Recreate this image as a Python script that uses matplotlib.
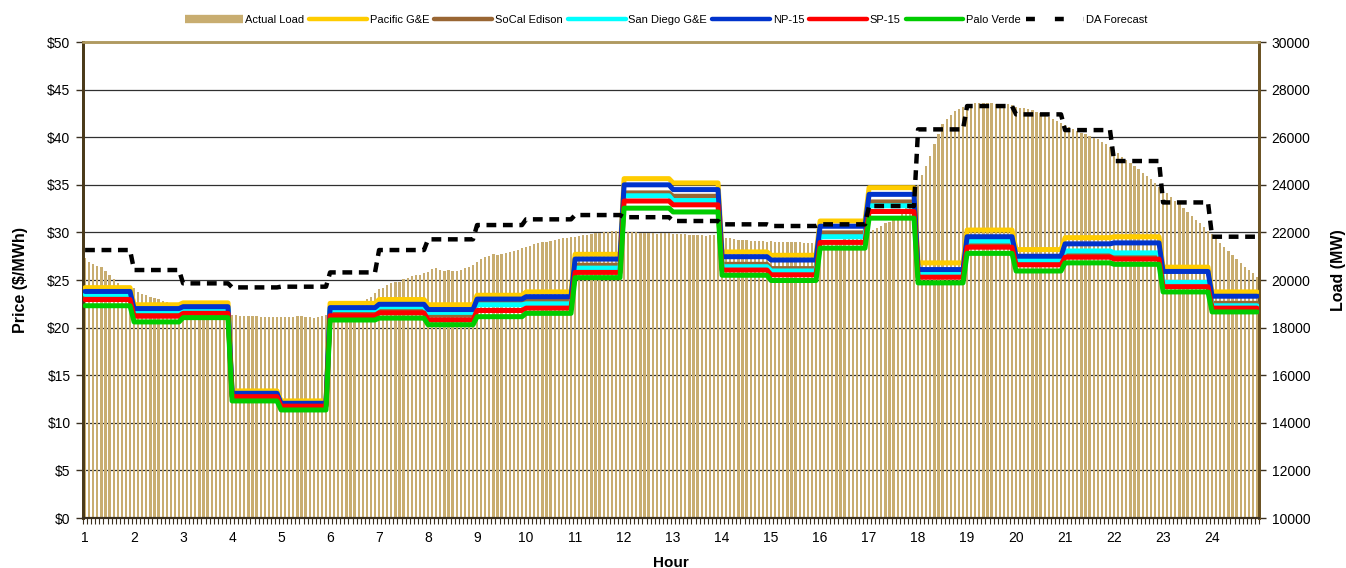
import numpy as np
import matplotlib
matplotlib.use("Agg")
import matplotlib.pyplot as plt
from matplotlib.lines import Line2D

plt.rcParams['font.family'] = ['Liberation Sans', 'DejaVu Sans']

hours = list(range(1, 25))

# actual load, 5-minute values (MW), one row per hour
load_mw = [
    20910, 20770, 20670, 20590, 20530, 20390, 20210, 20040, 19860, 19720, 19650, 19580,
    19650, 19510, 19410, 19370, 19300, 19230, 19190, 19130, 19090, 19050, 19010, 18990,
    18950, 18900, 18860, 18820, 18780, 18740, 18700, 18670, 18640, 18610, 18580, 18560,
    18530, 18530, 18500, 18490, 18490, 18490, 18480, 18460, 18460, 18460, 18460, 18450,
    18460, 18460, 18460, 18430, 18490, 18490, 18460, 18430, 18400, 18430, 18490, 18530,
    18580, 18620, 18660, 18700, 18750, 18800, 18880, 18960, 19060, 19190, 19300, 19440,
    19610, 19650, 19790, 19890, 19930, 19930, 20030, 20100, 20170, 20210, 20210, 20280,
    20350, 20450, 20490, 20420, 20390, 20420, 20390, 20390, 20420, 20490, 20560, 20630,
    20770, 20880, 20950, 21010, 21080, 21050, 21100, 21150, 21190, 21230, 21260, 21330,
    21370, 21440, 21500, 21540, 21580, 21610, 21640, 21680, 21710, 21750, 21780, 21800,
    21820, 21850, 21890, 21910, 21930, 21960, 21990, 22030, 22030, 22060, 22060, 22070,
    22050, 22030, 22030, 22000, 21990, 21980, 21960, 21960, 21940, 21960, 21960, 21980,
    21940, 21920, 21930, 21940, 21900, 21900, 21880, 21880, 21870, 21880, 21890, 21890,
    21820, 21750, 21750, 21710, 21680, 21680, 21680, 21650, 21650, 21650, 21640, 21610,
    21650, 21610, 21610, 21610, 21610, 21580, 21580, 21580, 21570, 21570, 21570, 21570,
    21570, 21580, 21600, 21620, 21650, 21680, 21720, 21760, 21800, 21850, 21900, 21960,
    22030, 22100, 22200, 22280, 22380, 22450, 22550, 22680, 22850, 23050, 23300, 23550,
    24000, 24400, 24800, 25200, 25700, 26150, 26550, 26750, 26950, 27100, 27200, 27280,
    27350, 27400, 27430, 27430, 27430, 27430, 27420, 27410, 27400, 27390, 27380, 27350,
    27280, 27240, 27210, 27190, 27140, 27070, 27000, 26930, 26840, 26750, 26680, 26580,
    26510, 26420, 26330, 26260, 26190, 26120, 26050, 25980, 25910, 25810, 25700, 25600,
    25460, 25320, 25180, 25040, 24900, 24790, 24650, 24510, 24370, 24230, 24090, 23920,
    23810, 23640, 23500, 23330, 23180, 23010, 22870, 22690, 22520, 22380, 22240, 22070,
    21930, 21750, 21570, 21400, 21220, 21050, 20870, 20700, 20560, 20420, 20280, 20140,
]

# hourly prices ($/MWh)
pge = [24.2, 22.4, 22.6, 13.35, 12.3, 22.55, 22.95, 22.4, 23.4, 23.75, 27.7, 35.65,
       35.2, 27.95, 27.6, 31.2, 34.7, 26.8, 30.25, 28.2, 29.45, 29.55, 26.35, 23.75]
sce = [23.35, 21.6, 21.8, 12.9, 11.9, 21.7, 22.0, 21.3, 22.65, 22.8, 26.55, 34.15,
       33.8, 26.65, 26.2, 29.95, 33.2, 25.75, 28.9, 26.8, 27.7, 27.5, 24.55, 22.55]
sdge = [23.5, 21.8, 22.0, 13.0, 11.95, 21.9, 22.2, 21.6, 22.4, 22.5, 26.25, 33.85,
        33.35, 26.4, 25.95, 29.55, 32.8, 25.7, 29.1, 27.1, 28.05, 27.85, 24.75, 22.3]
np15 = [23.8, 22.0, 22.2, 13.1, 12.05, 22.1, 22.45, 21.9, 23.0, 23.25, 27.2, 35.0,
        34.5, 27.45, 27.1, 30.65, 34.0, 26.1, 29.55, 27.5, 28.8, 28.9, 25.9, 23.3]
sp15 = [22.95, 21.2, 21.5, 12.75, 11.75, 21.25, 21.55, 20.8, 21.8, 22.05, 25.8, 33.3,
        32.9, 26.05, 25.55, 28.95, 32.2, 25.3, 28.45, 26.6, 27.4, 27.2, 24.3, 22.05]
palo_verde = [22.3, 20.6, 21.05, 12.3, 11.35, 20.8, 21.0, 20.3, 21.15, 21.5, 25.25, 32.55,
              32.15, 25.5, 24.95, 28.35, 31.5, 24.7, 27.8, 25.95, 26.8, 26.65, 23.75, 21.65]

# day-ahead load forecast (MW)
da_forecast = [21260, 20420, 19860, 19690, 19720, 20320, 21260, 21710, 22310, 22550, 22730, 22640,
               22480, 22340, 22270, 22340, 23110, 26330, 27310, 26960, 26300, 25000, 23260, 21820]

# 5-minute x positions
x = np.array([h + k / 12 for h in hours for k in range(12)])
hour_of = np.repeat(np.arange(24), 12)

fig = plt.figure(figsize=(13.46, 5.68), dpi=100)
ax_load = fig.add_axes([0.0617, 0.088, 0.8737, 0.838])
ax_p = ax_load.twinx()

# load bars (bottom layer)
ax_load.bar(x, load_mw, width=0.045, color='#C8AD70', zorder=2)
ax_load.set_ylim(10000, 30000)
ax_load.set_yticks(range(10000, 30001, 2000))
ax_load.yaxis.tick_right()
ax_load.yaxis.set_label_position('right')
ax_load.set_ylabel('Load (MW)', fontsize=11.5, fontweight='bold')
ax_load.yaxis.set_label_coords(1.061, 0.52)
ax_load.grid(axis='y', color='#303030', linewidth=0.9, zorder=0)
ax_load.set_axisbelow(True)

ax_p.yaxis.tick_left()
ax_p.yaxis.set_label_position('left')
ax_p.set_ylim(0, 50)
ax_p.set_yticks(range(0, 51, 5))
ax_p.set_yticklabels(['$%d' % v for v in range(0, 51, 5)])
ax_p.set_ylabel('Price ($/MWh)', fontsize=11.5, fontweight='bold', labelpad=14)

series = [
    ('Pacific G&E', pge, '#FFCC00'),
    ('SoCal Edison', sce, '#996633'),
    ('San Diego G&E', sdge, '#00FFFF'),
    ('NP-15', np15, '#0033CC'),
    ('SP-15', sp15, '#FF0000'),
    ('Palo Verde', palo_verde, '#00CC00'),
]
for name, vals, col in series:
    y = np.array(vals)[hour_of]
    ax_p.plot(x, y, color=col, linewidth=3.6, solid_joinstyle='round',
              solid_capstyle='round', zorder=3)

da = np.array(da_forecast)[hour_of]
ax_p.plot(x, da, color='black', linewidth=3.2, dashes=(2.2, 1.5),
          transform=ax_load.transData, zorder=4)

xmin, xmax = 1 - 1 / 24, 25 - 1 / 24
ax_load.set_xlim(xmin, xmax)
ax_p.set_xlim(xmin, xmax)
ax_load.set_xticks(hours)
ax_load.set_xticklabels([str(h) for h in hours])
ax_load.set_xticks(np.arange(xmin, xmax + 1e-6, 1 / 12), minor=True)
ax_load.tick_params(axis='x', which='major', length=0, pad=9, labelsize=10)
ax_load.tick_params(axis='x', which='minor', length=4, width=0.8, color='#3a3020')
ax_load.set_xlabel('Hour', fontsize=11, fontweight='bold', labelpad=8)
ax_load.tick_params(axis='y', which='major', length=5, width=1, labelsize=10, pad=4,
                    color='#3a3020')
ax_p.tick_params(axis='y', which='major', length=5, width=1, labelsize=10, pad=4,
                 color='#3a3020')

for a in (ax_load, ax_p):
    a.spines['left'].set_color('#4a3a1a')
    a.spines['left'].set_linewidth(2.0)
    a.spines['right'].set_color('#6b5323')
    a.spines['right'].set_linewidth(2.0)
    a.spines['top'].set_color('#b09a60')
    a.spines['top'].set_linewidth(1.8)
    a.spines['bottom'].set_color('#3a3020')
    a.spines['bottom'].set_linewidth(1.5)

handles = [Line2D([], [], color='#C8AD70', linewidth=6, solid_capstyle='butt')]
labels = ['Actual Load']
for name, vals, col in series:
    handles.append(Line2D([], [], color=col, linewidth=3.2, solid_capstyle='round'))
    labels.append(name)
handles.append(Line2D([], [], color='black', linewidth=3.2, dashes=(2.0, 4.5)))
labels.append('DA Forecast')
fig.legend(handles, labels, loc='center', bbox_to_anchor=(0.495, 0.965), ncol=8,
           frameon=False, fontsize=8, handlelength=5.2, handletextpad=0.25,
           columnspacing=0.45, borderpad=0)

fig.savefig('out.png', dpi=100)
